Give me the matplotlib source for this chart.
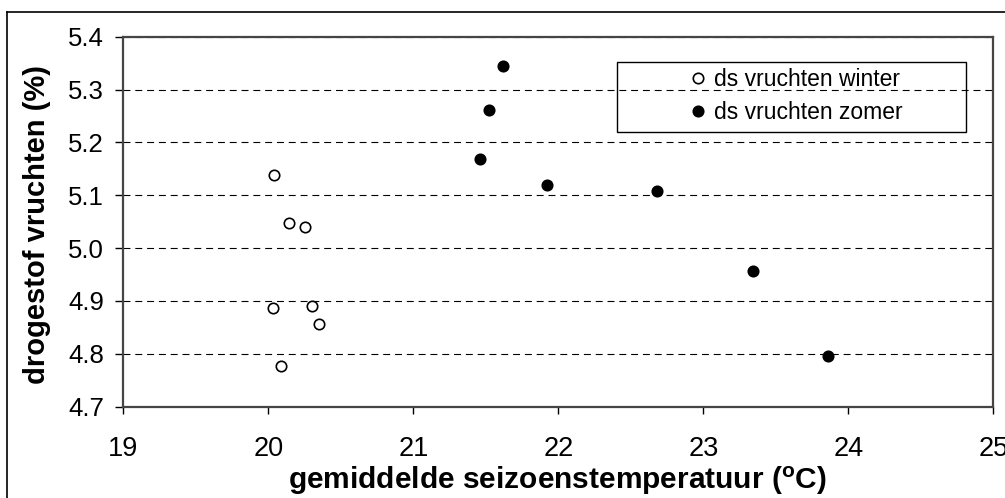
import matplotlib
matplotlib.use('Agg')
import matplotlib.pyplot as plt
from matplotlib.patches import Rectangle
from matplotlib.lines import Line2D

# data
winter_x = [20.04, 20.14, 20.25, 20.03, 20.30, 20.35, 20.09]
winter_y = [5.138, 5.048, 5.040, 4.886, 4.890, 4.856, 4.777]
zomer_x = [21.62, 21.52, 21.46, 21.92, 22.68, 23.34, 23.86]
zomer_y = [5.345, 5.262, 5.168, 5.120, 5.108, 4.957, 4.795]

xticks = [19, 20, 21, 22, 23, 24, 25]
yticks = [4.7, 4.8, 4.9, 5.0, 5.1, 5.2, 5.3, 5.4]

plt.rcParams['font.family'] = ['Liberation Sans', 'DejaVu Sans']
plt.rcParams['mathtext.fontset'] = 'custom'
plt.rcParams['mathtext.rm'] = 'Liberation Sans'
plt.rcParams['mathtext.bf'] = 'Liberation Sans:bold'
plt.rcParams['lines.scale_dashes'] = False

W, H = 1005, 498
fig = plt.figure(figsize=(W / 100, H / 100), dpi=100)
ax = fig.add_axes([123.3 / W, 1 - 406.7 / H, (993.4 - 123.3) / W, (406.7 - 36.7) / H])

ax.plot(winter_x, winter_y, 'o', ls='none', ms=7.5, mfc='white', mec='black', mew=1.2,
        label='ds vruchten winter', zorder=3)
ax.plot(zomer_x, zomer_y, 'o', ls='none', ms=7.5, mfc='black', mec='black', mew=1.2,
        label='ds vruchten zomer', zorder=3)

ax.set_xlim(19, 25)
ax.set_ylim(4.7, 5.4)
ax.set_xticks(xticks)
ax.set_yticks(yticks)
ax.set_yticklabels([f'{v:.1f}' for v in yticks])
ax.yaxis.grid(True, color='black', lw=0.8, linestyle=(0, (5, 3.5)))
ax.set_axisbelow(True)

for s in ax.spines.values():
    s.set_color('#454545')
    s.set_linewidth(1.6)

ax.tick_params(axis='x', direction='out', length=5, width=1, pad=16, labelsize=19.5)
ax.tick_params(axis='y', direction='out', length=6, width=1, pad=8, labelsize=18.5)

fig.text(37 / W, 1 - 224 / H, 'drogestof vruchten (%)', rotation=90, ha='center', va='center',
         fontsize=21, fontweight='bold')
fig.text(557.5 / W, 1 - 481 / H, r'gemiddelde seizoenstemperatuur ($\mathbf{^{o}}$C)',
         ha='center', va='center', fontsize=21.5, fontweight='bold')

# legend box
fig.add_artist(Rectangle((617.4 / W, 1 - 132 / H), 348.2 / W, 70 / H, transform=fig.transFigure,
                         fill=False, edgecolor='black', lw=1))
ax.legend(loc='center', bbox_to_anchor=(796 / W, 1 - 96 / H), bbox_transform=fig.transFigure,
          frameon=False, fontsize=16.5, handlelength=0.8, handletextpad=0.3,
          labelspacing=0.45, borderpad=0)

# outer frame
fig.add_artist(Line2D([7.3 / W, 7.3 / W], [0, 1 - 12.5 / H], transform=fig.transFigure,
                      color='black', lw=1.2))
fig.add_artist(Line2D([7.3 / W, 1], [1 - 12.5 / H, 1 - 12.5 / H], transform=fig.transFigure,
                      color='black', lw=1.2))

fig.savefig('out.png', dpi=100)
